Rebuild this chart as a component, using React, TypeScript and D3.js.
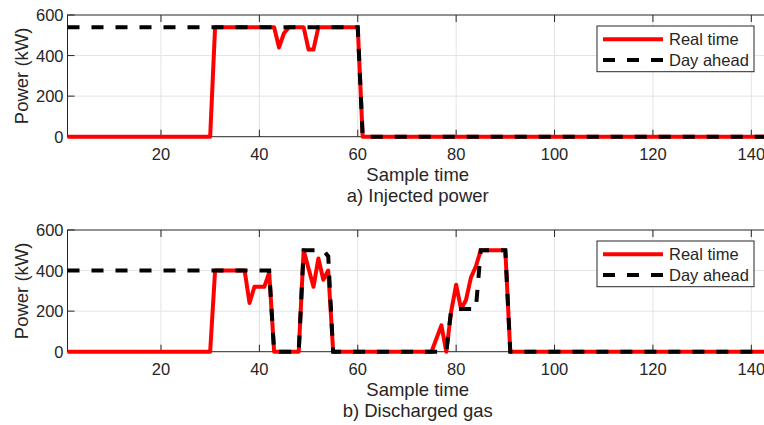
import React from "react";
import * as d3 from "d3";

// Sample index 1..144
const samples: number[] = d3.range(1, 145);

// a) Injected power (kW)
const realTimeA: number[] = [
  0, 0, 0, 0, 0, 0, 0, 0, 0, 0, 0, 0,
  0, 0, 0, 0, 0, 0, 0, 0, 0, 0, 0, 0,
  0, 0, 0, 0, 0, 0, 540, 540, 540, 540, 540, 540,
  540, 540, 540, 540, 540, 540, 540, 440, 510, 540, 540, 540,
  540, 430, 430, 540, 540, 540, 540, 540, 540, 540, 540, 540,
  0, 0, 0, 0, 0, 0, 0, 0, 0, 0, 0, 0,
  0, 0, 0, 0, 0, 0, 0, 0, 0, 0, 0, 0,
  0, 0, 0, 0, 0, 0, 0, 0, 0, 0, 0, 0,
  0, 0, 0, 0, 0, 0, 0, 0, 0, 0, 0, 0,
  0, 0, 0, 0, 0, 0, 0, 0, 0, 0, 0, 0,
  0, 0, 0, 0, 0, 0, 0, 0, 0, 0, 0, 0,
  0, 0, 0, 0, 0, 0, 0, 0, 0, 0, 0, 0,
];
const dayAheadA: number[] = [
  540, 540, 540, 540, 540, 540, 540, 540, 540, 540, 540, 540,
  540, 540, 540, 540, 540, 540, 540, 540, 540, 540, 540, 540,
  540, 540, 540, 540, 540, 540, 540, 540, 540, 540, 540, 540,
  540, 540, 540, 540, 540, 540, 540, 540, 540, 540, 540, 540,
  540, 540, 540, 540, 540, 540, 540, 540, 540, 540, 540, 540,
  0, 0, 0, 0, 0, 0, 0, 0, 0, 0, 0, 0,
  0, 0, 0, 0, 0, 0, 0, 0, 0, 0, 0, 0,
  0, 0, 0, 0, 0, 0, 0, 0, 0, 0, 0, 0,
  0, 0, 0, 0, 0, 0, 0, 0, 0, 0, 0, 0,
  0, 0, 0, 0, 0, 0, 0, 0, 0, 0, 0, 0,
  0, 0, 0, 0, 0, 0, 0, 0, 0, 0, 0, 0,
  0, 0, 0, 0, 0, 0, 0, 0, 0, 0, 0, 0,
];

// b) Discharged gas (kW)
const realTimeB: number[] = [
  0, 0, 0, 0, 0, 0, 0, 0, 0, 0, 0, 0,
  0, 0, 0, 0, 0, 0, 0, 0, 0, 0, 0, 0,
  0, 0, 0, 0, 0, 0, 400, 400, 400, 400, 400, 400,
  400, 240, 320, 320, 320, 390, 0, 0, 0, 0, 0, 0,
  500, 410, 320, 460, 355, 400, 0, 0, 0, 0, 0, 0,
  0, 0, 0, 0, 0, 0, 0, 0, 0, 0, 0, 0,
  0, 0, 0, 65, 130, 0, 200, 330, 210, 255, 365, 420,
  500, 500, 500, 500, 500, 500, 0, 0, 0, 0, 0, 0,
  0, 0, 0, 0, 0, 0, 0, 0, 0, 0, 0, 0,
  0, 0, 0, 0, 0, 0, 0, 0, 0, 0, 0, 0,
  0, 0, 0, 0, 0, 0, 0, 0, 0, 0, 0, 0,
  0, 0, 0, 0, 0, 0, 0, 0, 0, 0, 0, 0,
];
const dayAheadB: number[] = [
  400, 400, 400, 400, 400, 400, 400, 400, 400, 400, 400, 400,
  400, 400, 400, 400, 400, 400, 400, 400, 400, 400, 400, 400,
  400, 400, 400, 400, 400, 400, 400, 400, 400, 400, 400, 400,
  400, 400, 400, 400, 400, 400, 0, 0, 0, 0, 0, 0,
  500, 500, 500, 500, 500, 470, 0, 0, 0, 0, 0, 0,
  0, 0, 0, 0, 0, 0, 0, 0, 0, 0, 0, 0,
  0, 0, 0, 0, 0, 0, 210, 210, 210, 210, 210, 210,
  500, 500, 500, 500, 500, 500, 0, 0, 0, 0, 0, 0,
  0, 0, 0, 0, 0, 0, 0, 0, 0, 0, 0, 0,
  0, 0, 0, 0, 0, 0, 0, 0, 0, 0, 0, 0,
  0, 0, 0, 0, 0, 0, 0, 0, 0, 0, 0, 0,
  0, 0, 0, 0, 0, 0, 0, 0, 0, 0, 0, 0,
];

const xTicks: number[] = [20, 40, 60, 80, 100, 120, 140];
const yTicks: number[] = [0, 200, 400, 600];
const seriesNames: string[] = ["Real time", "Day ahead"];
const panelTitles: string[] = ["a) Injected power", "b) Discharged gas"];
const xLabel = "Sample time";
const yLabel = "Power (kW)";

const W = 764;
const H = 425;
const LEFT = 67.5;
const RIGHT = 771;
const FONT = "'Liberation Sans', Arial, Helvetica, sans-serif";
const TXT = "#262626";
const GRID = "#e3e3e3";
const DASH = "12,12";

type PanelProps = {
  top: number;
  bottom: number;
  rt: number[];
  da: number[];
  title: string;
};

function Panel({ top, bottom, rt, da, title }: PanelProps) {
  const x = d3.scaleLinear().domain([1, 144]).range([LEFT, RIGHT]);
  const y = d3.scaleLinear().domain([0, 600]).range([bottom, top]);
  const line = d3
    .line<number>()
    .x((_, i) => x(samples[i]))
    .y((d) => y(d));
  const tl = 7;
  const cx = (LEFT + RIGHT) / 2 - 1.5;
  const lgX = 597;
  const lgY = top + 11;
  return (
    <g>
      {/* grid */}
      {xTicks.map((t) => (
        <line key={"gx" + t} x1={x(t)} x2={x(t)} y1={top} y2={bottom} stroke={GRID} strokeWidth={1} />
      ))}
      {yTicks.slice(1, -1).map((t) => (
        <line key={"gy" + t} x1={LEFT} x2={RIGHT} y1={y(t)} y2={y(t)} stroke={GRID} strokeWidth={1} />
      ))}
      {/* box */}
      <rect x={LEFT} y={top} width={RIGHT - LEFT} height={bottom - top} fill="none" stroke={TXT} strokeWidth={1} />
      {xTicks.map((t) => (
        <g key={"tx" + t}>
          <line x1={x(t)} x2={x(t)} y1={bottom} y2={bottom - tl} stroke={TXT} strokeWidth={1} />
          <line x1={x(t)} x2={x(t)} y1={top} y2={top + tl} stroke={TXT} strokeWidth={1} />
          <text x={x(t)} y={bottom + 23.3} textAnchor="middle" fontSize={16.5} fill={TXT} fontFamily={FONT}>
            {t}
          </text>
        </g>
      ))}
      {yTicks.map((t) => (
        <g key={"ty" + t}>
          <line x1={LEFT} x2={LEFT + tl} y1={y(t)} y2={y(t)} stroke={TXT} strokeWidth={1} />
          <line x1={RIGHT} x2={RIGHT - tl} y1={y(t)} y2={y(t)} stroke={TXT} strokeWidth={1} />
          <text x={63.5} y={y(t) + 6} textAnchor="end" fontSize={16.5} fill={TXT} fontFamily={FONT}>
            {t}
          </text>
        </g>
      ))}
      {/* data */}
      <path d={line(rt) || ""} fill="none" stroke="#ff0000" strokeWidth={4} strokeLinejoin="round" />
      <path d={line(da) || ""} fill="none" stroke="#000000" strokeWidth={4} strokeDasharray={DASH} />
      {/* labels */}
      <text x={cx} y={bottom + 44.5} textAnchor="middle" fontSize={18.5} fill={TXT} fontFamily={FONT}>
        {xLabel}
      </text>
      <text x={cx} y={bottom + 65.5} textAnchor="middle" fontSize={18.5} fill={TXT} fontFamily={FONT}>
        {title}
      </text>
      <text
        transform={`translate(27.5,${(top + bottom) / 2}) rotate(-90)`}
        textAnchor="middle"
        fontSize={18.5}
        fill={TXT}
        fontFamily={FONT}
      >
        {yLabel}
      </text>
      {/* legend */}
      <rect x={lgX} y={lgY} width={157} height={45.7} fill="#ffffff" stroke={TXT} strokeWidth={1} />
      <line x1={lgX + 6} x2={lgX + 66} y1={lgY + 13.3} y2={lgY + 13.3} stroke="#ff0000" strokeWidth={4} />
      <line x1={lgX + 6} x2={lgX + 66} y1={lgY + 34} y2={lgY + 34} stroke="#000" strokeWidth={4} strokeDasharray={DASH} />
      <text x={lgX + 72} y={lgY + 19.3} fontSize={16.5} fill={TXT} fontFamily={FONT}>
        {seriesNames[0]}
      </text>
      <text x={lgX + 72} y={lgY + 40} fontSize={16.5} fill={TXT} fontFamily={FONT}>
        {seriesNames[1]}
      </text>
    </g>
  );
}

export default function App() {
  return (
    <svg
      width={W}
      height={H}
      viewBox={`0 0 ${W} ${H}`}
      style={{ position: "absolute", left: 0, top: 0, background: "#ffffff" }}
    >
      <rect x={0} y={0} width={W} height={H} fill="#ffffff" />
      <Panel top={15} bottom={136.7} rt={realTimeA} da={dayAheadA} title={panelTitles[0]} />
      <Panel top={230} bottom={351.7} rt={realTimeB} da={dayAheadB} title={panelTitles[1]} />
    </svg>
  );
}
